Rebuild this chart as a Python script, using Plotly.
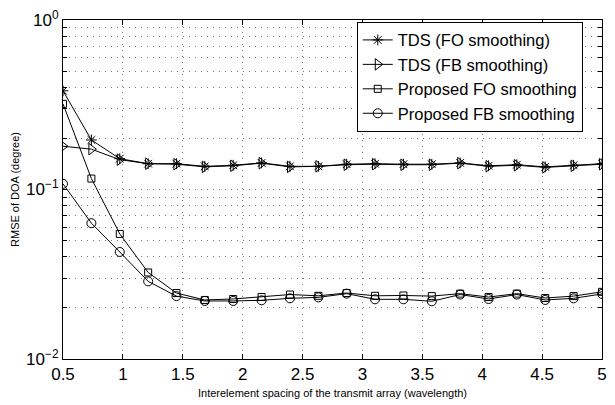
import plotly.graph_objects as go

spacing = [0.5, 0.737, 0.974, 1.211, 1.447, 1.684, 1.921, 2.158, 2.395, 2.632,
           2.868, 3.105, 3.342, 3.579, 3.816, 4.053, 4.289, 4.526, 4.763, 5.0]

tds_fo = [0.382, 0.196, 0.152, 0.142, 0.142, 0.137, 0.139, 0.1435, 0.137, 0.137,
          0.141, 0.142, 0.141, 0.141, 0.1435, 0.138, 0.140, 0.136, 0.139, 0.142]
tds_fb = [0.180, 0.173, 0.150, 0.142, 0.141, 0.136, 0.138, 0.143, 0.136, 0.137,
          0.140, 0.141, 0.140, 0.140, 0.143, 0.137, 0.139, 0.135, 0.138, 0.141]
prop_fo = [0.320, 0.116, 0.0547, 0.0324, 0.0245, 0.0223, 0.0226, 0.0232, 0.0240, 0.0236,
           0.0245, 0.0236, 0.0237, 0.0235, 0.0243, 0.0232, 0.0243, 0.0229, 0.0235, 0.0249]
prop_fb = [0.108, 0.0633, 0.0428, 0.0287, 0.0235, 0.0220, 0.0220, 0.0222, 0.0228, 0.0231,
           0.0243, 0.0225, 0.0225, 0.0219, 0.0240, 0.0226, 0.0240, 0.0223, 0.0228, 0.0242]

series_names = ["TDS (FO smoothing)", "TDS (FB smoothing)",
                "Proposed FO smoothing", "Proposed FB smoothing"]
series_vals = [tds_fo, tds_fb, prop_fo, prop_fb]
symbols = ["asterisk-open", "triangle-right-open", "square-open", "circle-open"]
sizes = [9, 10, 7, 9]

x_ticks = [0.5, 1, 1.5, 2, 2.5, 3, 3.5, 4, 4.5, 5]
y_major = [0.01, 0.1, 1]
y_major_text = ["10<sup>−2</sup>", "10<sup>−1</sup>", "10<sup>0</sup>"]

fig = go.Figure()
for name, vals, sym, sz in zip(series_names, series_vals, symbols, sizes):
    fig.add_trace(go.Scatter(
        x=spacing, y=vals, name=name, mode="lines+markers",
        line=dict(color="black", width=1),
        marker=dict(symbol=sym, size=sz, color="black",
                    line=dict(color="black", width=1)),
    ))

yvals, ytext = [], []
for d, lab in zip(y_major[:2], y_major_text[:2]):
    yvals.append(d); ytext.append(lab)
    for k in range(2, 10):
        yvals.append(d * k); ytext.append("")
yvals.append(y_major[2]); ytext.append(y_major_text[2])

grid_style = dict(showgrid=True, gridcolor="#777", griddash="1px,5px", gridwidth=1)

fig.update_layout(
    width=615, height=405,
    margin=dict(l=63, r=8, t=15, b=44),
    paper_bgcolor="white", plot_bgcolor="white",
    font=dict(family="Liberation Sans, Arial, sans-serif", color="black"),
    showlegend=True,
    legend=dict(x=0.545, y=0.995, xanchor="left", yanchor="top",
                bgcolor="white", bordercolor="black", borderwidth=1,
                font=dict(size=16.5), tracegroupgap=0, itemwidth=30,
                entrywidth=240, entrywidthmode="pixels"),
    xaxis=dict(
        range=[0.5, 5], tickvals=x_ticks, ticktext=[str(v) for v in x_ticks],
        tickfont=dict(size=17), ticks="inside", ticklen=5, tickcolor="black",
        showline=True, linecolor="black", linewidth=1, mirror="ticks",
        zeroline=False, **grid_style,
        title=dict(text="Interelement spacing of the transmit array (wavelength)",
                   font=dict(size=11), standoff=5),
    ),
    yaxis=dict(
        type="log", range=[-2, 0], tickvals=yvals, ticktext=ytext,
        tickfont=dict(size=17), ticks="inside", ticklen=4, tickcolor="black",
        showline=True, linecolor="black", linewidth=1, mirror="ticks",
        zeroline=False, **grid_style,
        title=dict(text="RMSE of DOA (degree)", font=dict(size=11), standoff=4),
    ),
)

fig.write_html("out.html", config={"displayModeBar": False},
               post_script="document.body.style.margin='0';")
